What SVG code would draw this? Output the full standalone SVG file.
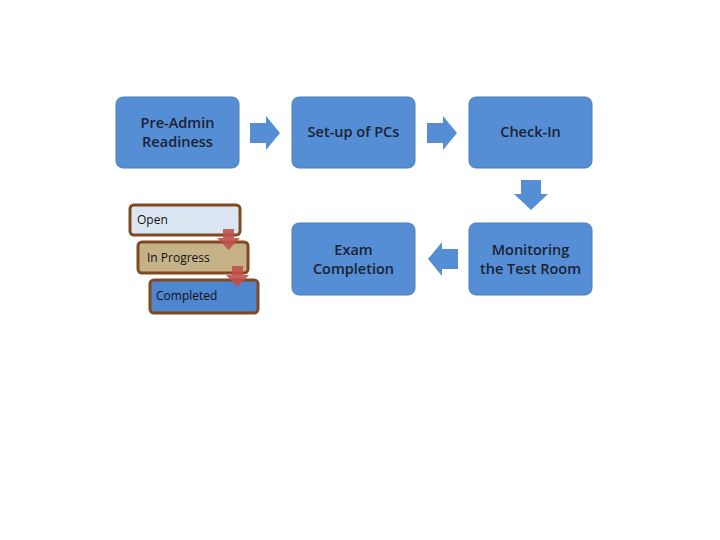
<svg xmlns="http://www.w3.org/2000/svg" width="720" height="540" viewBox="0 0 720 540">
<style>
.n{fill:#558ed5;stroke:#4a7ebb;stroke-width:1}
.t{font-family:"Open Sans","Liberation Sans",sans-serif;font-size:14.5px;font-weight:600;fill:#1a2233;text-anchor:middle}
.a{fill:#558ed5}
.l{stroke:#7f4a22;stroke-width:3}
.lt{font-family:"Open Sans","Liberation Sans",sans-serif;font-size:12px;fill:#111}
.r{fill:#c0504d;opacity:0.9}
</style>
<rect width="720" height="540" fill="#fff"/>
<g id="n1"><rect class="n" x="116" y="97" width="123" height="71" rx="7"/><text class="t" x="177.5" y="128">Pre-Admin</text><text class="t" x="177.5" y="147">Readiness</text></g>
<g id="n2"><rect class="n" x="292" y="97" width="123" height="71" rx="7"/><text class="t" x="353.5" y="137">Set-up of PCs</text></g>
<g id="n3"><rect class="n" x="469" y="97" width="123" height="71" rx="7"/><text class="t" x="530.5" y="137">Check-In</text></g>
<g id="n4"><rect class="n" x="469" y="223" width="123" height="72" rx="7"/><text class="t" x="530.5" y="255">Monitoring</text><text class="t" x="530.5" y="274">the Test Room</text></g>
<g id="n5"><rect class="n" x="292" y="223" width="123" height="72" rx="7"/><text class="t" x="353.5" y="255">Exam</text><text class="t" x="353.5" y="274">Completion</text></g>
<g id="connectors">
<polygon class="a" points="250,123 266,123 266,116 280,133 266,150 266,143 250,143"/>
<polygon class="a" points="427,123 443,123 443,116 457,133 443,150 443,143 427,143"/>
<polygon class="a" points="521,180 541,180 541,194 548,194 531,210 514,194 521,194"/>
<polygon class="a" points="458,249 442,249 442,242 428,259 442,276 442,269 458,269"/>
</g>
<g id="legend">
<rect class="l" x="130" y="205" width="110" height="30" rx="4" fill="#dce6f2"/>
<text class="lt" x="137" y="224">Open</text>
<rect class="l" x="138" y="242" width="110" height="31" rx="4" fill="#c6b287"/>
<text class="lt" x="147" y="262">In Progress</text>
<rect class="l" x="150" y="280" width="108" height="33" rx="4" fill="#4f86d0"/>
<text class="lt" x="156" y="300" fill="#0b1a3a">Completed</text>
<polygon class="r" points="223,229 234,229 234,238 240,238 228.5,250 217,238 223,238"/>
<polygon class="r" points="232,266 243,266 243,275 249,275 237.5,287 226,275 232,275"/>
</g>
</svg>
